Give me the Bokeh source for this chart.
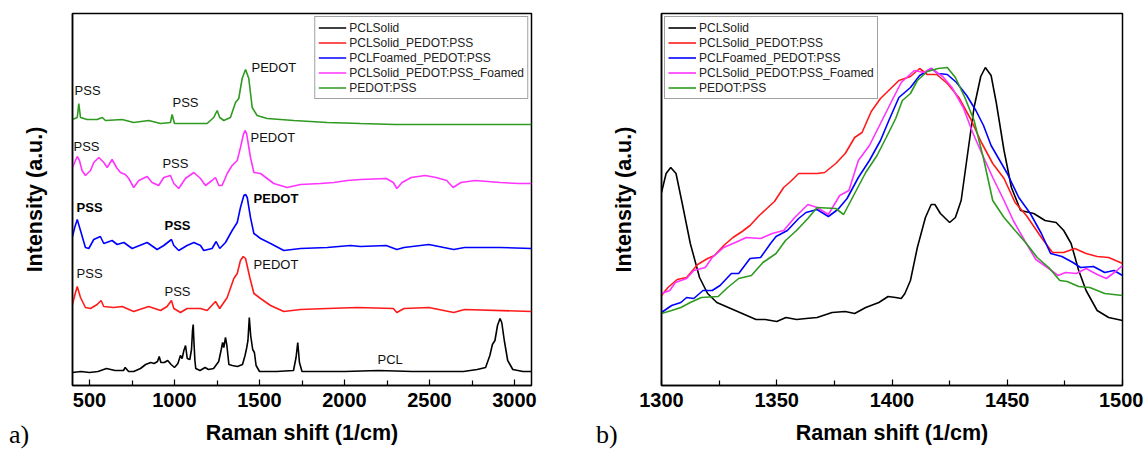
from bokeh.plotting import figure
from bokeh.layouts import row, column
from bokeh.models import Range1d, FixedTicker, Div
from bokeh.embed import file_html
from bokeh.resources import INLINE
from bokeh.core.properties import value

# ---------------- series names / colours ----------------
series_names = ["PCLSolid", "PCLSolid_PEDOT:PSS", "PCLFoamed_PEDOT:PSS",
                "PCLSolid_PEDOT:PSS_Foamed", "PEDOT:PSS"]
series_colors = ["#000000", "#ff1a1a", "#0000ff", "#ff33ff", "#2e9a1f"]

# ---------------- panel a) full spectra (offset, a.u.) ----------------
a_pcl_x = [400, 450, 500, 550, 600, 650, 700, 710, 730, 760, 800, 830, 860, 880, 900, 910, 920, 940,
           960, 980, 1000, 1020, 1035, 1045, 1055, 1065, 1075, 1090, 1100, 1106, 1110, 1114, 1120,
           1125, 1150, 1180, 1200, 1230, 1260, 1275, 1283, 1290, 1300, 1308, 1320, 1340, 1370, 1400,
           1415, 1425, 1432, 1440, 1448, 1460, 1470, 1480, 1500, 1600, 1700, 1715, 1725, 1735, 1750,
           1900, 2000, 2200, 2400, 2600, 2700, 2780, 2830, 2855, 2870, 2885, 2900, 2915, 2925, 2940,
           2960, 2990, 3050, 3100]
a_pcl_y = [13, 14, 13, 14, 17, 15, 15, 18, 14, 14, 17, 21, 23, 22, 24, 29, 23, 23,
           25, 21, 18, 22, 30, 27, 35, 40, 27, 26, 36, 55, 61, 45, 25,
           17, 15, 18, 16, 17, 24, 36, 43, 38, 48, 40, 21, 20, 19, 21,
           30, 38, 45, 68, 50, 36, 33, 20, 14, 14, 15, 28, 43, 23, 14,
           14, 14, 15, 14, 14, 14, 16, 18, 30, 41, 45, 60, 67, 63, 45,
           25, 16, 14, 14]

a_red_x = [400, 413, 428, 447, 476, 506, 545, 568, 584, 643, 692, 760, 848, 918, 956, 982, 996,
           1035, 1074, 1153, 1192, 1241, 1266, 1310, 1349, 1369, 1388, 1404, 1418, 1443, 1467,
           1506, 1565, 1643, 1741, 1898, 2077, 2287, 2308, 2350, 2496, 2643, 2706, 3100]
a_red_y = [81, 90, 99, 88, 78, 77, 81, 85, 79, 78, 79, 74, 79, 75, 79, 85, 77,
           73, 77, 77, 75, 84, 77, 88, 107, 112, 125, 129, 127, 108, 92,
           87, 80, 74, 76, 77, 78, 77, 73, 77, 78, 73, 76, 74]

a_blue_x = [400, 413, 428, 447, 476, 496, 525, 564, 584, 633, 663, 702, 751, 780, 839, 898, 937,
            982, 996, 1025, 1074, 1114, 1153, 1172, 1221, 1245, 1266, 1300, 1339, 1369, 1388, 1408,
            1418, 1428, 1447, 1467, 1506, 1565, 1643, 1741, 1898, 2035, 2094, 2245, 2308, 2350,
            2496, 2643, 2706, 2916, 3100]
a_blue_y = [149, 158, 166, 155, 138, 137, 146, 149, 142, 145, 141, 143, 137, 139, 143, 136, 140,
            146, 140, 135, 140, 143, 140, 135, 137, 144, 137, 143, 155, 163, 178, 190,
            191, 188, 168, 152, 147, 142, 135, 137, 138, 140, 139, 140, 136, 138,
            141, 136, 138, 138, 137]

a_mag_x = [400, 428, 441, 456, 476, 506, 525, 555, 584, 604, 633, 659, 682, 711, 731, 760, 790,
           839, 868, 907, 937, 976, 996, 1025, 1064, 1114, 1153, 1182, 1221, 1241, 1261, 1280,
           1310, 1339, 1369, 1388, 1404, 1414, 1424, 1447, 1467, 1506, 1545, 1584, 1663, 1741,
           1859, 1937, 2016, 2094, 2245, 2287, 2308, 2339, 2392, 2475, 2538, 2601, 2639, 2685,
           2769, 2916, 3021, 3100]
a_mag_y = [218, 229, 225, 215, 210, 215, 223, 228, 223, 218, 226, 218, 213, 211, 207, 198, 205,
           209, 203, 200, 208, 210, 202, 197, 207, 213, 207, 200, 205, 208, 200, 200,
           212, 220, 225, 238, 250, 255, 252, 228, 213, 212, 207, 202, 198, 201,
           202, 203, 205, 206, 207, 203, 197, 203, 208, 210, 208, 205, 198, 203,
           205, 203, 202, 202]

a_grn_x = [400, 428, 437, 447, 486, 545, 575, 594, 692, 760, 848, 918, 976, 986, 1000, 1114,
           1192, 1231, 1251, 1266, 1290, 1329, 1359, 1378, 1398, 1418, 1437, 1457, 1486, 1545,
           1702, 1800, 1898, 2094, 2300, 2600, 2900, 3100]
a_grn_y = [266, 268, 282, 268, 266, 266, 268, 265, 266, 263, 265, 262, 263, 271, 262, 262,
           262, 268, 275, 268, 265, 268, 283, 287, 307, 316, 307, 278, 270, 267,
           265, 264, 263, 262, 261, 261, 261, 261]

# peak annotations of panel a)
ann_text = ["PSS", "PSS", "PEDOT", "PSS", "PSS", "PEDOT", "PSS", "PSS", "PEDOT", "PCL"]
ann_x = [412, 988, 1453, 406, 929, 1447, 424, 941, 1465, 2194]
ann_y = [295, 283, 318, 239, 222, 248, 112, 94, 121, 26]
ann_bold_text = ["PSS", "PSS", "PEDOT"]
ann_bold_x = [424, 941, 1465]
ann_bold_y = [178, 160, 187]

# ---------------- panel b) 1300-1500 zoom (normalised, a.u.) ----------------
b_pcl_x = [1300, 1302, 1304, 1306.3, 1309, 1312.5, 1316.5, 1320, 1324, 1330, 1335, 1341, 1345,
           1350, 1354, 1358.6, 1362.7, 1367.5, 1374, 1379.7, 1383.8, 1388.6, 1394.3, 1398.3,
           1401.6, 1404, 1405.6, 1408, 1411, 1414.5, 1417, 1418.6, 1421, 1425, 1427.5, 1430,
           1432.4, 1435.6, 1438.5, 1440.5, 1443, 1445.3, 1448.6, 1451.8, 1455.8, 1461.5, 1466.4,
           1471.2, 1474.5, 1477.7, 1481, 1484.2, 1489, 1494, 1500]
b_pcl_y = [193, 212, 218, 212, 182, 142, 108, 92, 83, 77, 72, 66, 66,
           64, 68, 66, 67, 68, 73, 74, 72, 78, 83, 89,
           88, 87, 92, 105, 138, 168, 181, 181, 172, 163, 168, 185,
           225, 278, 309, 318, 310, 282, 235, 198, 175, 172, 165,
           163, 155, 142, 115, 95, 75, 68, 65]

b_red_x = [1300, 1302.8, 1306.8, 1310.9, 1315.7, 1320, 1323, 1327, 1331, 1335, 1338.4, 1342.4,
           1345.7, 1349, 1353, 1356, 1359.5, 1364.3, 1367.5, 1370.8, 1375.6, 1379.7, 1383.8, 1387,
           1391, 1395, 1399, 1403, 1408, 1412, 1415.3, 1419.4, 1424, 1429, 1434, 1438.8, 1443.7,
           1448.6, 1453.4, 1458.3, 1464.8, 1469.6, 1474.5, 1479.3, 1484.2, 1489, 1494, 1500]
b_red_y = [90, 98, 106, 108, 121, 127, 130, 140, 148, 154, 160, 170,
           177, 184, 198, 204, 212, 212, 212, 213, 222, 232, 248, 253,
           274, 287, 296, 305, 309, 317, 311, 311, 302, 288, 267, 243, 222,
           207, 183, 170, 148, 133, 133, 137, 132, 129, 128, 122]

b_blue_x = [1300, 1304.4, 1308.4, 1310.9, 1314, 1318, 1322, 1325.4, 1330.3, 1333.5, 1338.4, 1343,
            1347.3, 1349.7, 1354.6, 1359.5, 1362.7, 1367.5, 1372.4, 1376.5, 1380.5, 1385.4, 1390.2,
            1395, 1399, 1403, 1408, 1412, 1417, 1420, 1424, 1428, 1432.4, 1436.4, 1439.7, 1443,
            1446, 1450, 1455, 1460, 1464.8, 1468.8, 1473.7, 1478.5, 1481.8, 1487.4, 1492.3,
            1496.3, 1500]
b_blue_y = [73, 80, 83, 88, 87, 95, 95, 100, 112, 112, 127, 128,
            142, 149, 155, 167, 173, 176, 169, 176, 187, 208, 225,
            245, 267, 288, 298, 310, 317, 312, 311, 303, 290, 275, 260, 240,
            228, 212, 188, 172, 152, 132, 129, 123, 118, 119, 113,
            115, 110]

b_mag_x = [1300, 1303.6, 1306, 1310.9, 1314, 1319, 1322, 1327, 1332, 1336.8, 1343, 1348, 1353,
           1357.8, 1363.5, 1367.5, 1372.4, 1377.3, 1381.3, 1385.4, 1390.2, 1395, 1400, 1404,
           1409.7, 1413.8, 1417, 1422, 1426, 1430.9, 1435, 1438.8, 1443.7, 1448.6, 1452.6, 1457.5,
           1462.4, 1468, 1472, 1475.3, 1480, 1484.2, 1489, 1493, 1497, 1500]
b_mag_y = [92, 95, 103, 107, 115, 118, 128, 138, 143, 148, 147, 152, 155,
           168, 181, 178, 171, 190, 195, 225, 240, 262, 285, 303,
           315, 313, 317, 309, 298, 278, 253, 233, 208, 185, 165, 145,
           126, 117, 110, 113, 112, 117, 111, 107, 114, 120]

b_grn_x = [1300, 1304.4, 1308.4, 1312.5, 1317.3, 1324.6, 1328.7, 1333.5, 1339, 1344, 1349.7,
           1353.8, 1358.6, 1363.5, 1367.5, 1375.6, 1379, 1383.8, 1388.6, 1393.5, 1397.5, 1401.6,
           1404.5, 1408, 1411, 1415.3, 1420, 1424, 1427.5, 1431.6, 1435.6, 1439.7, 1443.7, 1448.6,
           1453.4, 1458.3, 1463, 1468, 1472.8, 1476, 1481, 1485.8, 1492.3, 1500]
b_grn_y = [72, 75, 78, 83, 88, 89, 98, 107, 110, 123, 132,
           145, 155, 167, 178, 177, 171, 192, 213, 230, 248, 267,
           285, 292, 305, 314, 317, 318, 308, 288, 265, 227, 185, 168,
           155, 142, 128, 118, 105, 104, 99, 98, 92, 90]

a_ticks = [500, 1000, 1500, 2000, 2500, 3000]
a_minor = [750, 1250, 1750, 2250, 2750]
b_ticks = [1300, 1350, 1400, 1450, 1500]
b_minor = [1325, 1375, 1425, 1475]
panel_tags = ["a)", "b)"]

SANS = "Liberation Sans"
SERIF = "Liberation Serif"


def style(p, ticks, minor):
    p.outline_line_color = "black"
    p.outline_line_width = 1.5
    p.xgrid.visible = False
    p.ygrid.visible = False
    p.background_fill_color = "white"
    p.border_fill_color = "white"
    xa = p.xaxis[0]
    xa.ticker = FixedTicker(ticks=ticks, minor_ticks=minor)
    xa.axis_line_width = 1.5
    xa.major_tick_in = 6
    xa.major_tick_out = 0
    xa.minor_tick_in = 5
    xa.minor_tick_out = 0
    xa.major_tick_line_width = 1.2
    xa.minor_tick_line_width = 1.2
    xa.major_label_text_font = SANS
    xa.major_label_text_font_style = "bold"
    xa.major_label_text_font_size = "20px"
    xa.major_label_text_color = "black"
    xa.major_label_standoff = 7
    xa.axis_label = "Raman shift (1/cm)"
    xa.axis_label_text_font = SANS
    xa.axis_label_text_font_style = "bold"
    xa.axis_label_text_font_size = "21.5px"
    xa.axis_label_text_color = "black"
    xa.axis_label_standoff = 11
    ya = p.yaxis[0]
    ya.ticker = FixedTicker(ticks=[])
    ya.axis_line_width = 1.5
    ya.major_tick_line_color = None
    ya.minor_tick_line_color = None
    ya.axis_label = "Intensity (a.u.)"
    ya.axis_label_text_font = SANS
    ya.axis_label_text_font_style = "bold"
    ya.axis_label_text_font_size = "21.5px"
    ya.axis_label_text_color = "black"
    ya.axis_label_standoff = 26


def style_legend(lg, loc):
    lg.location = loc
    lg.margin = 3
    lg.padding = 3
    lg.spacing = 0
    lg.label_height = 15
    lg.glyph_height = 15
    lg.glyph_width = 28
    lg.label_standoff = 3
    lg.label_text_font = SANS
    lg.label_text_font_size = "12px"
    lg.label_text_color = "#222222"
    lg.border_line_color = "#444444"
    lg.border_line_width = 1
    lg.background_fill_alpha = 1.0


# ---------------- panel a) ----------------
p1 = figure(width=560, height=449, output_backend="svg", toolbar_location=None,
            x_range=Range1d(400, 3100), y_range=Range1d(0, 372),
            min_border_left=72, min_border_right=29, min_border_top=13, min_border_bottom=64)
a_sets = [(a_pcl_x, a_pcl_y), (a_red_x, a_red_y), (a_blue_x, a_blue_y),
          (a_mag_x, a_mag_y), (a_grn_x, a_grn_y)]
for (xs, ys), name, col in zip(a_sets, series_names, series_colors):
    p1.line(xs, ys, line_color=col, line_width=1.6, legend_label=name)
p1.text(x=ann_x, y=ann_y, text=ann_text, text_font=value(SANS), text_font_size="13px",
        text_baseline="middle", text_align="left", text_color="#111111")
p1.text(x=ann_bold_x, y=ann_bold_y, text=ann_bold_text, text_font=value(SANS),
        text_font_size="13px", text_font_style="bold", text_baseline="middle",
        text_align="left", text_color="black")
style(p1, a_ticks, a_minor)
style_legend(p1.legend[0], "top_right")

# ---------------- panel b) ----------------
p2 = figure(width=583, height=449, output_backend="svg", toolbar_location=None,
            x_range=Range1d(1300, 1500), y_range=Range1d(0, 372),
            min_border_left=101, min_border_right=21, min_border_top=13, min_border_bottom=64)
b_sets = [(b_pcl_x, b_pcl_y), (b_red_x, b_red_y), (b_blue_x, b_blue_y),
          (b_mag_x, b_mag_y), (b_grn_x, b_grn_y)]
for (xs, ys), name, col in zip(b_sets, series_names, series_colors):
    p2.line(xs, ys, line_color=col, line_width=1.6, legend_label=name)
style(p2, b_ticks, b_minor)
style_legend(p2.legend[0], "top_left")

# panel tags "a)" / "b)" (serif), overlaid on the bottom-left corners
tag_style = ("position:absolute;top:-23px;font-family:'Liberation Serif';font-size:26px;"
             "line-height:26px;color:#000;white-space:nowrap;")
tags_html = ('<div style="position:relative;width:1143px;height:8px;">'
             f'<span style="{tag_style}left:9px;">{panel_tags[0]}</span>'
             f'<span style="{tag_style}left:596px;">{panel_tags[1]}</span>'
             '</div>')
tags = Div(text=tags_html, width=1143, height=8, margin=(-8, 0, 0, 0))

layout = column(row(p1, p2), tags)
open("out.html", "w").write(file_html(layout, INLINE))
